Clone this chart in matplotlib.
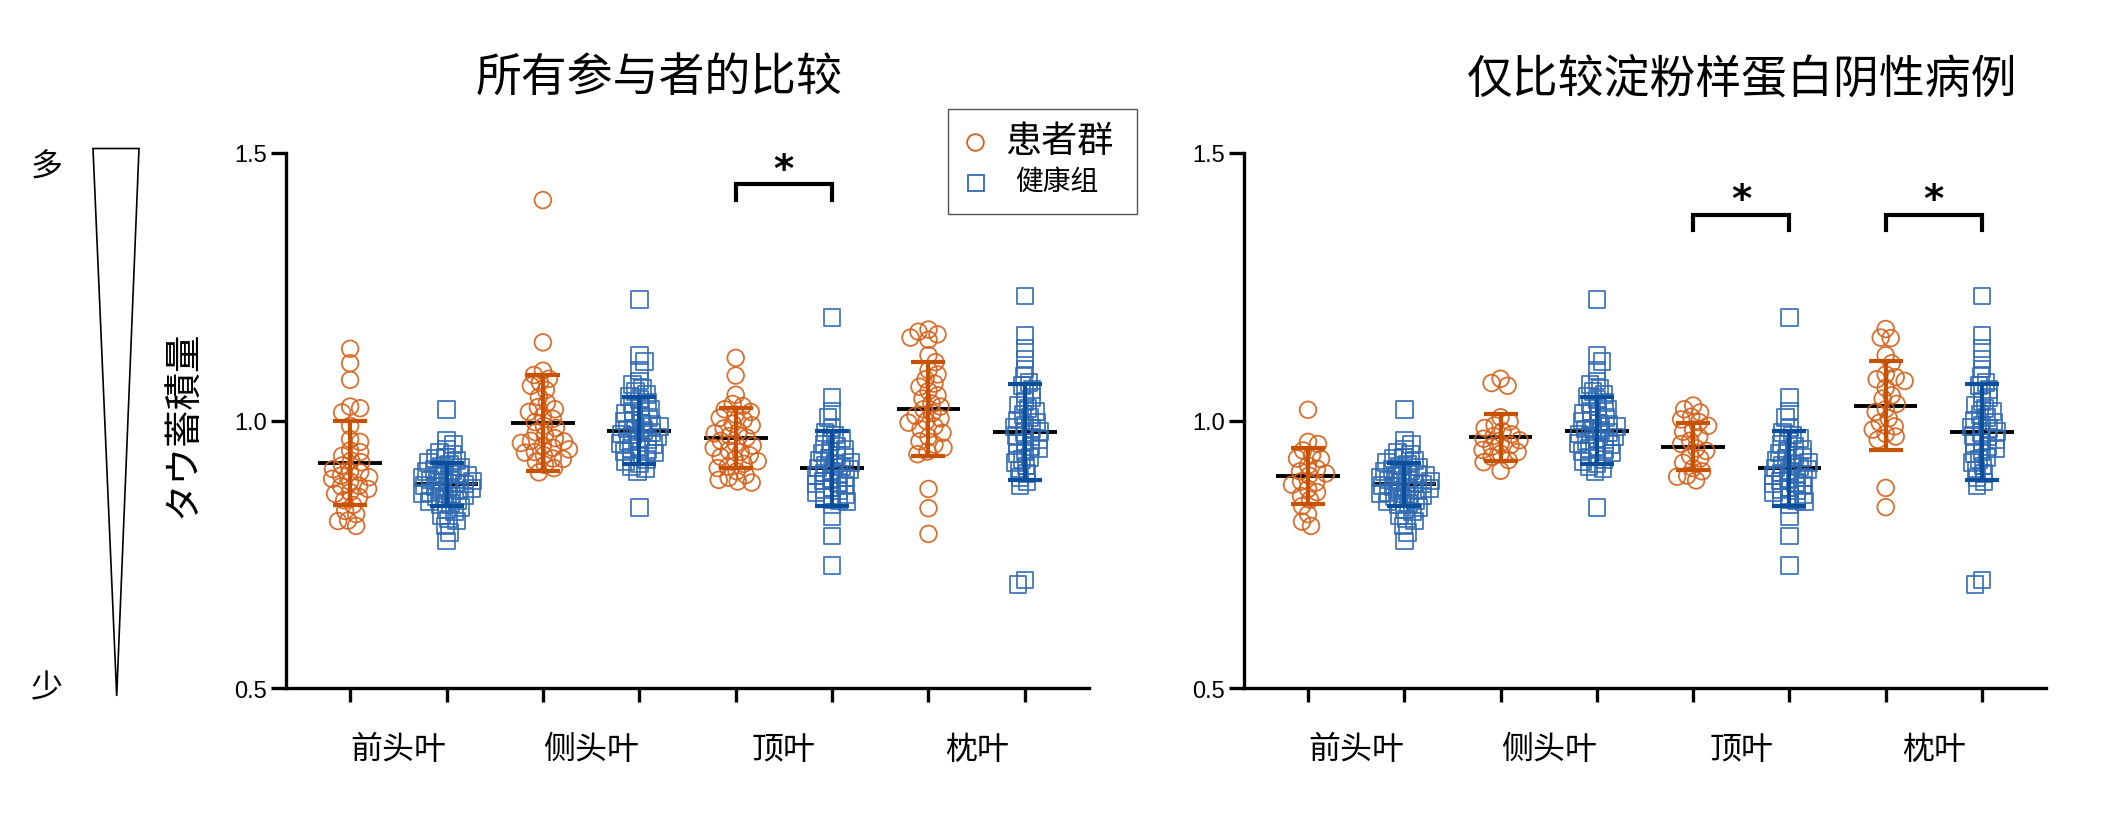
import numpy as np
import matplotlib
matplotlib.use('Agg')
import matplotlib.pyplot as plt
from matplotlib.lines import Line2D
from matplotlib.patches import Polygon, Rectangle

plt.rcParams['font.family'] = ['Noto Sans CJK SC', 'DejaVu Sans']

#===================================================================================#
## data
lobes = ['前头叶', '侧头叶', '顶叶', '枕叶']
titles = ['所有参与者的比较', '仅比较淀粉样蛋白阴性病例']
legend_labels = ['患者群', '健康组']
ylabel = 'タウ蓄積量'
wedge_labels = ['多', '少']
yticks = [0.5, 1.0, 1.5]
ytick_labels = ['0.5', '1.0', '1.5']

# healthy controls (same in both panels)
ctrl_frontal = [1.020, 0.962, 0.955, 0.947, 0.941, 0.937, 0.931, 0.929, 0.925, 0.921, 0.919,
                0.915, 0.913, 0.909, 0.906, 0.905, 0.901, 0.899, 0.897, 0.895, 0.893, 0.890,
                0.889, 0.887, 0.884, 0.883, 0.881, 0.879, 0.877, 0.874, 0.873, 0.870, 0.868,
                0.866, 0.864, 0.861, 0.859, 0.857, 0.854, 0.851, 0.849, 0.845, 0.842, 0.838,
                0.833, 0.829, 0.822, 0.816, 0.812, 0.803, 0.791, 0.775]
ctrl_lateral = [1.226, 1.121, 1.110, 1.093, 1.074, 1.067, 1.061, 1.054, 1.049, 1.045, 1.039,
                1.034, 1.031, 1.025, 1.021, 1.017, 1.013, 1.009, 1.006, 1.001, 0.999, 0.995,
                0.993, 0.989, 0.986, 0.984, 0.981, 0.978, 0.975, 0.973, 0.969, 0.966, 0.964,
                0.961, 0.957, 0.955, 0.951, 0.948, 0.946, 0.942, 0.939, 0.935, 0.932, 0.927,
                0.923, 0.919, 0.914, 0.910, 0.905, 0.838]
ctrl_parietal = [1.192, 1.043, 1.018, 1.006, 0.986, 0.978, 0.973, 0.966, 0.961, 0.955, 0.951,
                 0.946, 0.943, 0.939, 0.935, 0.931, 0.929, 0.926, 0.922, 0.919, 0.917, 0.913,
                 0.911, 0.908, 0.905, 0.902, 0.899, 0.897, 0.893, 0.891, 0.887, 0.884, 0.881,
                 0.878, 0.875, 0.871, 0.869, 0.866, 0.862, 0.859, 0.856, 0.851, 0.848, 0.843,
                 0.820, 0.784, 0.729]
ctrl_occipital = [1.233, 1.159, 1.134, 1.115, 1.096, 1.082, 1.071, 1.065, 1.058, 1.051, 1.043,
                  1.035, 1.029, 1.022, 1.017, 1.011, 1.005, 1.001, 0.997, 0.991, 0.988, 0.985,
                  0.980, 0.977, 0.972, 0.969, 0.965, 0.960, 0.957, 0.951, 0.947, 0.942, 0.938,
                  0.931, 0.927, 0.921, 0.915, 0.907, 0.901, 0.893, 0.885, 0.878, 0.702, 0.694]

# patients, all
pat_frontal = [1.134, 1.107, 1.076, 1.026, 1.023, 1.015, 0.990, 0.965, 0.960, 0.944, 0.941,
               0.934, 0.925, 0.922, 0.916, 0.909, 0.904, 0.903, 0.897, 0.894, 0.891, 0.886,
               0.878, 0.877, 0.872, 0.866, 0.863, 0.857, 0.851, 0.842, 0.831, 0.825, 0.813,
               0.812, 0.803]
pat_lateral = [1.412, 1.146, 1.093, 1.085, 1.078, 1.071, 1.065, 1.057, 1.044, 1.033, 1.025,
               1.021, 1.016, 1.008, 1.003, 0.997, 0.990, 0.986, 0.978, 0.972, 0.967, 0.962,
               0.961, 0.958, 0.953, 0.949, 0.946, 0.941, 0.940, 0.935, 0.929, 0.928, 0.923,
               0.917, 0.911, 0.903]
pat_parietal = [1.117, 1.084, 1.048, 1.031, 1.027, 1.021, 1.016, 1.011, 1.005, 1.001, 0.994,
                0.991, 0.985, 0.979, 0.976, 0.971, 0.968, 0.962, 0.957, 0.953, 0.949, 0.944,
                0.941, 0.935, 0.932, 0.927, 0.924, 0.919, 0.914, 0.911, 0.905, 0.898, 0.893,
                0.889, 0.886, 0.884]
pat_occipital = [1.170, 1.166, 1.161, 1.155, 1.151, 1.122, 1.109, 1.094, 1.086, 1.077, 1.069,
                 1.063, 1.055, 1.047, 1.041, 1.032, 1.026, 1.021, 1.014, 1.009, 1.004, 0.999,
                 0.996, 0.989, 0.984, 0.977, 0.969, 0.961, 0.955, 0.949, 0.942, 0.937, 0.872,
                 0.836, 0.788]

# patients, amyloid negative only
neg_frontal = [1.020, 0.960, 0.956, 0.944, 0.935, 0.929, 0.928, 0.916, 0.910, 0.905, 0.901,
               0.897, 0.886, 0.884, 0.880, 0.872, 0.866, 0.859, 0.852, 0.840, 0.825, 0.811,
               0.803]
neg_lateral = [1.078, 1.070, 1.065, 1.006, 0.998, 0.991, 0.986, 0.980, 0.974, 0.971, 0.966,
               0.963, 0.957, 0.954, 0.951, 0.945, 0.941, 0.938, 0.932, 0.926, 0.922, 0.906]
neg_parietal = [1.028, 1.021, 1.015, 1.007, 1.002, 0.997, 0.990, 0.983, 0.979, 0.969, 0.962,
                0.956, 0.948, 0.943, 0.934, 0.929, 0.921, 0.911, 0.905, 0.897, 0.895, 0.888]
neg_occipital = [1.171, 1.155, 1.154, 1.122, 1.107, 1.086, 1.081, 1.077, 1.074, 1.061, 1.047,
                 1.041, 1.031, 1.021, 1.016, 1.004, 0.996, 0.989, 0.983, 0.975, 0.970, 0.964,
                 0.874, 0.838]

# mean and SD bars as drawn (patient, control, patient, control, ...)
mean_all = [0.921, 0.881, 0.995, 0.981, 0.968, 0.911, 1.021, 0.979]
sd_all = [0.079, 0.040, 0.090, 0.062, 0.056, 0.070, 0.088, 0.090]
mean_neg = [0.896, 0.881, 0.969, 0.981, 0.951, 0.911, 1.028, 0.979]
sd_neg = [0.052, 0.040, 0.044, 0.062, 0.044, 0.070, 0.083, 0.090]

# significant pairs (lobe index)
sig_all = [2]
sig_neg = [2, 3]

#===================================================================================#
## plot parameters
W, H, DPI = 2128, 828, 100
c_pat = '#D4611B'
c_pat_bar = '#C85200'
c_ctl = '#2F6AB3'
c_ctl_bar = '#0B4E9C'
ms = 12                     # marker size (pt)
lw_axis = 2.4
PX_X = 803 / 8.33           # pixels per x unit
PX_Y = 535.0                # pixels per y unit


def swarm(vals, dmin, maxoff=26.0, step=1.0):
    # simple beeswarm: x offsets in pixels, overlap allowed down to dmin
    vals = np.asarray(vals)
    ys = vals * PX_Y
    order = np.argsort(-vals, kind='stable')
    cands = [0.0]
    k = 1
    while k * step <= maxoff:
        cands += [k * step, -k * step]
        k += 1
    placed = []
    offs = np.zeros(len(vals))
    flip = 1
    for i in order:
        best, bestd = 0.0, -1.0
        for c in cands:
            c = c * flip
            if not placed:
                best = c
                break
            d = min(np.hypot(c - px, ys[i] - py) for px, py in placed)
            if d >= dmin:
                best = c
                break
            if d > bestd:
                bestd, best = d, c
        offs[i] = best
        placed.append((best, ys[i]))
        flip = -flip
    return offs


def draw_panel(ax, groups, means, sds, sig, bar_y, leg_y):
    for j, vals in enumerate(groups):
        x0 = j + 1
        pat = (j % 2 == 0)
        col = c_pat if pat else c_ctl
        bcol = c_pat_bar if pat else c_ctl_bar
        offs = swarm(vals, 9.5 if pat else 7.5) / PX_X
        ax.plot([x0 - 0.33, x0 + 0.33], [means[j], means[j]], color='k', lw=2.8,
                solid_capstyle='butt', zorder=2)
        ax.scatter(x0 + offs, vals, s=ms ** 2, marker='o' if pat else 's',
                   facecolors='none', edgecolors=col, linewidths=1.3, alpha=0.9, zorder=3)
        ax.errorbar(x0, means[j], yerr=sds[j], fmt='none', ecolor=bcol, elinewidth=3,
                    capsize=12, capthick=3, zorder=4)
    for k in sig:
        xa, xb = 2 * k + 1, 2 * k + 2
        ax.plot([xa, xa, xb, xb], [leg_y, bar_y, bar_y, leg_y], color='k', lw=3,
                solid_joinstyle='miter', clip_on=False, zorder=5)
        ax.text((xa + xb) / 2, bar_y + 0.006, '*', ha='center', va='baseline',
                fontsize=28, fontweight='bold', family='DejaVu Sans', clip_on=False)

    ax.set_xlim(1 - 0.665, 8 + 0.665)
    ax.set_ylim(0.5, 1.5)
    ax.set_xticks(range(1, 9))
    ax.set_xticklabels([])
    ax.set_yticks(yticks)
    ax.set_yticklabels(ytick_labels)
    for lbl in ax.get_yticklabels():
        lbl.set_fontfamily('Liberation Sans')
        lbl.set_fontsize(17)
    ax.tick_params(axis='x', length=10, width=lw_axis)
    ax.tick_params(axis='y', length=11, width=lw_axis, pad=3)
    for s in ['top', 'right']:
        ax.spines[s].set_visible(False)
    for s in ['left', 'bottom']:
        ax.spines[s].set_linewidth(lw_axis)
    for i, name in enumerate(lobes):
        ax.text(2 * i + 1.5, -0.114, name, transform=ax.get_xaxis_transform(),
                ha='center', va='center', fontsize=23)


#===================================================================================#
def main():
    fig = plt.figure(figsize=(W / DPI, H / DPI), dpi=DPI)
    ax1 = fig.add_axes([286 / W, 1 - 689 / H, 803 / W, 535 / H])
    ax2 = fig.add_axes([1244 / W, 1 - 689 / H, 802 / W, 535 / H])

    all_groups = [pat_frontal, ctrl_frontal, pat_lateral, ctrl_lateral,
                  pat_parietal, ctrl_parietal, pat_occipital, ctrl_occipital]
    neg_groups = [neg_frontal, ctrl_frontal, neg_lateral, ctrl_lateral,
                  neg_parietal, ctrl_parietal, neg_occipital, ctrl_occipital]
    draw_panel(ax1, all_groups, mean_all, sd_all, sig_all, 1.442, 1.413)
    draw_panel(ax2, neg_groups, mean_neg, sd_neg, sig_neg, 1.385, 1.357)

    # titles
    fig.text(659 / W, 1 - 79 / H, titles[0], ha='center', va='center', fontsize=33,
             fontweight='medium')
    fig.text(1742 / W, 1 - 79 / H, titles[1], ha='center', va='center', fontsize=33,
             fontweight='medium')

    # y label and wedge
    fig.text(183 / W, 1 - 424 / H, ylabel, rotation=90, ha='center', va='center',
             fontsize=27, family=['Noto Sans CJK JP', 'DejaVu Sans'])
    wedge = Polygon([[93 / W, 1 - 149.5 / H], [139 / W, 1 - 149.5 / H], [116.7 / W, 1 - 697 / H]],
                    closed=True, fill=False, edgecolor='k', lw=1.2, transform=fig.transFigure)
    fig.add_artist(wedge)
    fig.text(46.5 / W, 1 - 168 / H, wedge_labels[0], ha='center', va='center', fontsize=23)
    fig.text(46.5 / W, 1 - 688 / H, wedge_labels[1], ha='center', va='center', fontsize=23)

    # legend box
    box = Rectangle((948 / W, 1 - 215 / H), 188.5 / W, 105 / H, facecolor='white',
                    edgecolor='#555555', lw=1.0, transform=fig.transFigure)
    fig.add_artist(box)
    fig.add_artist(Line2D([975 / W], [1 - 143 / H], marker='o', ms=ms, mfc='none', mec=c_pat,
                          mew=1.3, ls='none', transform=fig.transFigure))
    fig.add_artist(Line2D([976 / W], [1 - 184 / H], marker='s', ms=ms, mfc='none', mec=c_ctl,
                          mew=1.3, ls='none', transform=fig.transFigure))
    fig.text(1005 / W, 1 - 142 / H, legend_labels[0], ha='left', va='center', fontsize=26)
    fig.text(1015 / W, 1 - 182 / H, legend_labels[1], ha='left', va='center', fontsize=20)

    fig.savefig('out.png', dpi=DPI)


if __name__ == '__main__':
    main()
